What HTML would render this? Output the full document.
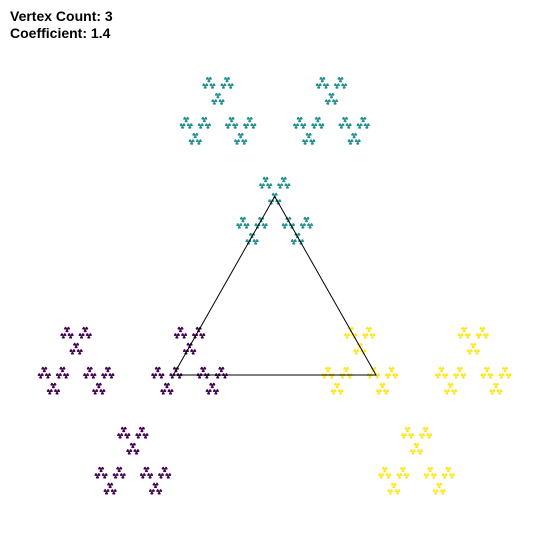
<!DOCTYPE html>
<html><head><meta charset="utf-8"><style>
html,body{margin:0;padding:0;background:#fff;}
svg{display:block;}
text{font-family:"Liberation Sans",Arial,sans-serif;font-weight:bold;font-size:14px;fill:#000;}
</style></head><body>
<svg id="chart" width="550" height="550">
<text x="10" y="21">Vertex Count: 3</text>
<text x="10" y="38">Coefficient: 1.4</text>
<g id="pts"></g>
<polygon id="tri" fill="none" stroke="#000" stroke-width="1"></polygon>
</svg>
<script>
// data: vertices in unit-circle coords, coefficient, colors per vertex
const vertexAngles = [210, 90, 330];
const vertexColors = ['#440154', '#21908d', '#fde725'];
const coefficient = 1.4;
const depth = 7;

const cx = 274.7, cy = 315.5, Rx = 117, Ry = 119;
function sx(x){ return cx + x*Rx; }
function sy(y){ return cy - y*Ry; }
const verts = vertexAngles.map(a => [Math.cos(a*Math.PI/180), Math.sin(a*Math.PI/180)]);
const ns = 'http://www.w3.org/2000/svg';
const g = document.getElementById('pts');
function f(i, p){ return [coefficient*verts[i][0] - (coefficient-1)*p[0], coefficient*verts[i][1] - (coefficient-1)*p[1]]; }
function build(p, d, color){
  if (d===0){
    const q = f(color,p);
    const c = document.createElementNS(ns,'circle');
    c.setAttribute('cx', sx(q[0]).toFixed(2));
    c.setAttribute('cy', sy(q[1]).toFixed(2));
    c.setAttribute('r', 0.95);
    c.setAttribute('fill', vertexColors[color]);
    
    
    g.appendChild(c);
    return;
  }
  for (let i=0;i<verts.length;i++) build(f(i,p), d-1, color);
}
for (let i=0;i<verts.length;i++) build([0,0], depth-1, i);
document.getElementById('tri').setAttribute('points', verts.map(v => sx(v[0]).toFixed(1)+','+sy(v[1]).toFixed(1)).join(' '));
</script>
</body></html>
